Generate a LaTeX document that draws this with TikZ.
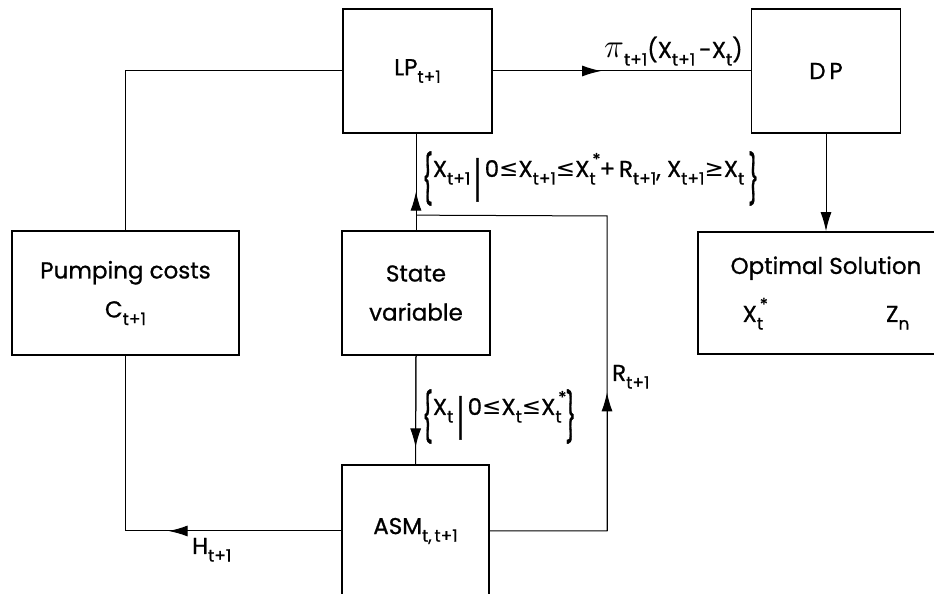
\documentclass[tikz,border=0pt]{standalone}
\usepackage{fontspec}
\setmainfont{Poppins}[FakeBold=0.8]
\newfontfamily\dvsym{DejaVu Sans}
\usetikzlibrary{arrows.meta,calc}
\newcommand{\lo}[1]{\raisebox{-0.33em}{\fontsize{17}{17}\selectfont #1}}
\newcommand{\st}[1]{\rlap{\raisebox{0.5em}{\fontsize{17}{17}\selectfont\,*}}\lo{#1}}
\newcommand{\lsym}{{\dvsym ≤}}
\newcommand{\gsym}{{\dvsym ≥}}
\newcommand{\tallbr}[1]{\raisebox{-0.85em}{\scalebox{1}[2.1]{#1}}}
\newcommand{\tallset}[2]{\tallbr{\{}#1\,\tallbr{|}\,#2\,\tallbr{\}}}
\tikzset{
  box/.style={draw,line width=1.7pt,align=center,minimum width=149pt,minimum height=124pt,inner sep=0pt},
  line/.style={draw,line width=1pt},
  arr/.style={-{Latex[length=19pt,width=11pt]},draw,line width=1pt},
  lbl/.style={inner sep=0pt}
}
\begin{document}
\begin{tikzpicture}[x=1pt,y=1pt,font=\fontsize{23}{39}\selectfont]
  \useasboundingbox (0,0) rectangle (934,594);
  \clip (0,0) rectangle (934,594);
  % boxes
  \node[box] (lp) at (417.5,523) {\raisebox{-12pt}{LP\lo{t+1}}};
  \node[box] (dp) at (826,523) {D\,P};
  \node[box,minimum width=227pt] (pump) at (125.5,301) {Pumping costs\\C\lo{t+1}};
  \node[box,minimum width=148pt] (state) at (416,301) {State\\variable};
  \node[box,minimum width=256pt,minimum height=122pt] (opt) at (826,301)
    {Optimal Solution\\[9pt]X\st{t}\hspace{123pt}Z\lo{n}\hspace{59pt}};
  \node[box,minimum width=147pt,minimum height=132pt] (asm) at (415.5,63) {ASM\lo{t,\,t+1}};
  % helper points
  \coordinate (hbend) at (pump.south |- asm.west);
  \coordinate (junc) at ($(state.north)+(0,15)$);
  \coordinate (rtop) at (607,378);
  \coordinate (rbot) at (rtop |- asm.east);
  % connectors
  \draw[line] (lp.west) -| (pump.north);
  \draw[line] (asm.west) -- (hbend) -- (pump.south);
  \draw[arr] (asm.west) -- ($(asm.west)!0.8!(hbend)$);
  \draw[line] (lp.east) -- (dp.west);
  \draw[arr] (lp.east) -- ($(lp.east)!0.42!(dp.west)$);
  \draw[line] (state.north) -- (state.north |- lp.south);
  \draw[arr] (state.north) -- ($(state.north)!0.4!(state.north |- lp.south)$);
  \draw[line] (asm.east) -- (rbot) -- (rtop) -- (junc);
  \draw[arr] (rbot) -- ($(rbot)!0.44!(rtop)$);
  \draw[line] (state.south) -- (asm.north);
  \draw[arr] (state.south) -- ($(state.south)!0.845!(asm.north)$);
  \draw[arr] (dp.south) -- (opt.north);
  % labels
  \node[lbl,anchor=base west] (pilbl) at (604,536)
    {\scalebox{1.35}{$\pi$}\lo{t+1}(X\lo{t+1}\,-X\lo{t})};
  \node[lbl,anchor=base west] (uplbl) at (422,417)
    {\tallset{X\lo{t+1}}{0\lsym X\lo{t+1}\lsym X\st{t}\,+\,R\lo{t+1}, X\lo{t+1}\gsym X\lo{t}}};
  \node[lbl,anchor=base west] (dnlbl) at (422,179)
    {\tallset{X\lo{t}}{0\lsym X\lo{t}\lsym X\st{t}}};
  \node[lbl,anchor=base west] (rlbl) at (612,213) {R\lo{t+1}};
  \node[lbl,anchor=base west] (hlbl) at (192,40) {H\lo{t+1}};
\end{tikzpicture}
\end{document}
